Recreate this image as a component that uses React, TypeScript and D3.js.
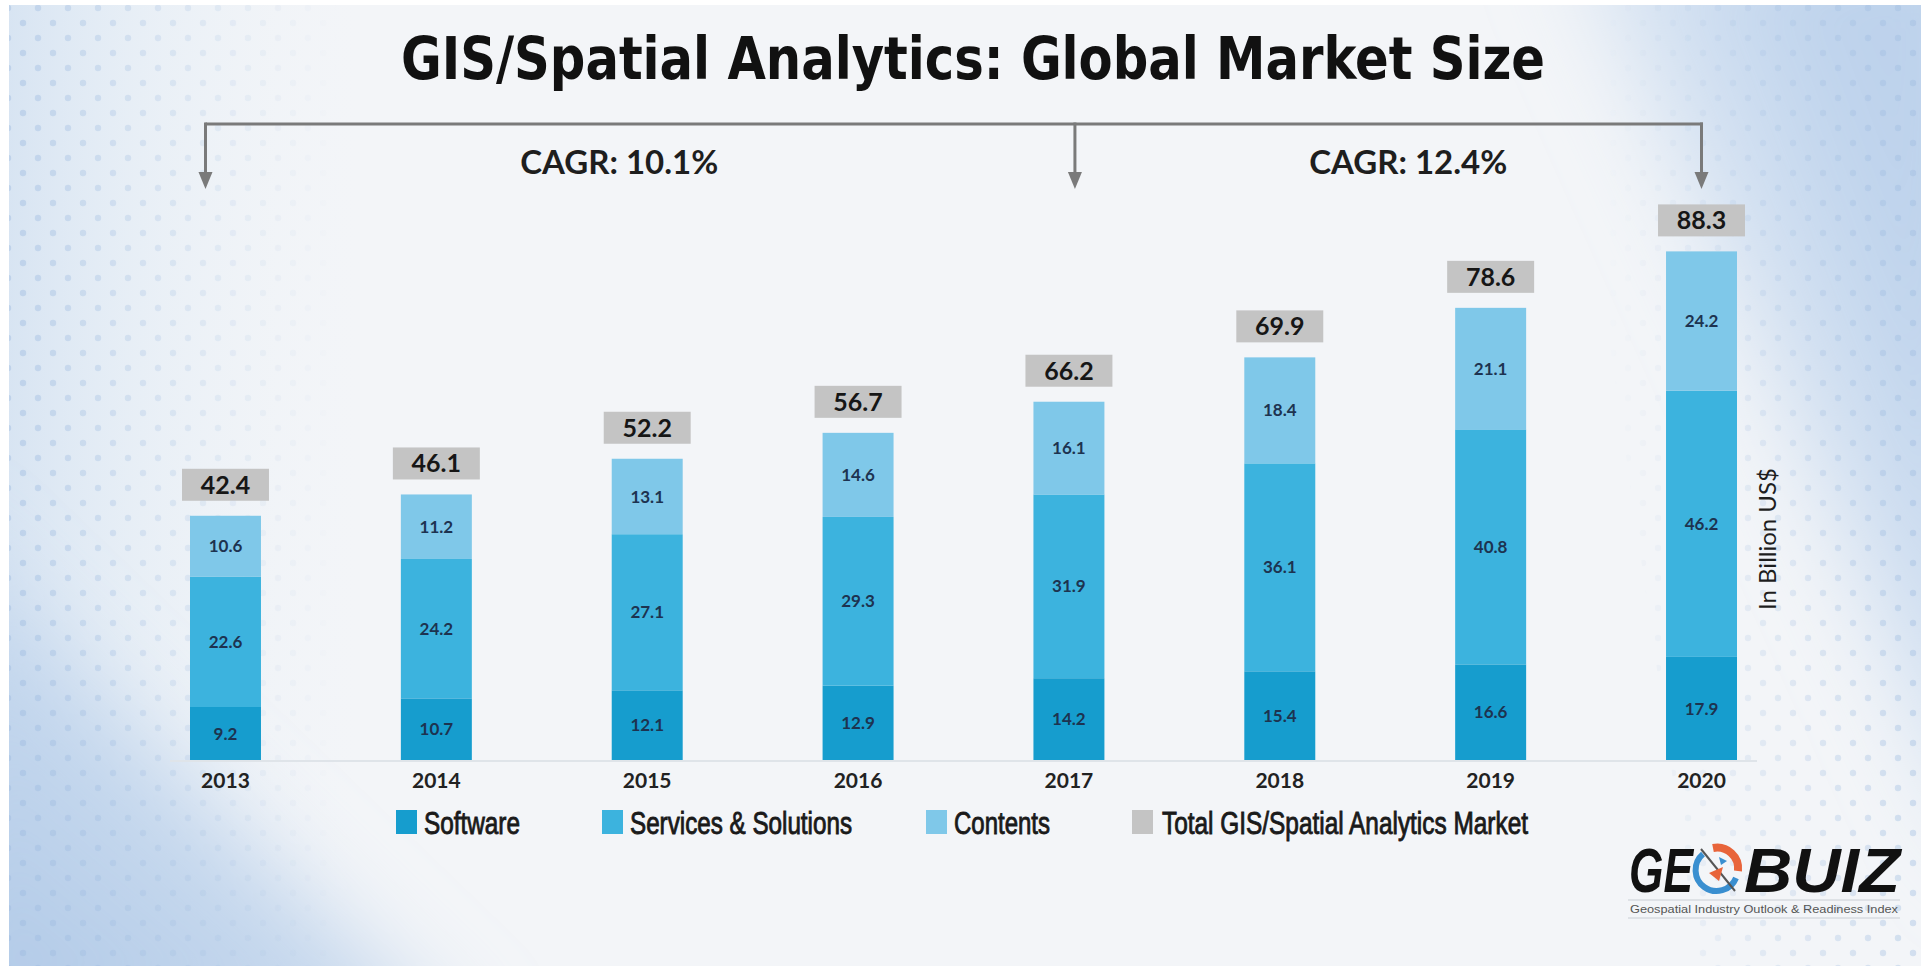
import React from "react";
import * as d3 from "d3";

const years = ["2013", "2014", "2015", "2016", "2017", "2018", "2019", "2020"];
const software = [9.2, 10.7, 12.1, 12.9, 14.2, 15.4, 16.6, 17.9];
const services = [22.6, 24.2, 27.1, 29.3, 31.9, 36.1, 40.8, 46.2];
const contents = [10.6, 11.2, 13.1, 14.6, 16.1, 18.4, 21.1, 24.2];
const totals = [42.4, 46.1, 52.2, 56.7, 66.2, 69.9, 78.6, 88.3];
const seriesKeys = ["software", "services", "contents"];
const legendLabels = ["Software", "Services & Solutions", "Contents", "Total GIS/Spatial Analytics Market"];
const cagrLabels = ["CAGR: 10.1%", "CAGR: 12.4%"];
const title = "GIS/Spatial Analytics: Global Market Size";
const unitLabel = "In Billion US$";
const logoCaption = "Geospatial Industry Outlook & Readiness Index";

const W = 1921;
const H = 966;
const COLORS = ["#169dce", "#3cb3de", "#7fc8e9", "#c4c4c4"];
const legendLayout = [
  { sx: 396, tx: 424, tl: 96 },
  { sx: 602, tx: 630, tl: 222 },
  { sx: 926, tx: 954, tl: 96 },
  { sx: 1132, tx: 1162, tl: 366 },
];

export default function App() {
  const rows = years.map((yr, i) => ({
    year: yr,
    software: software[i],
    services: services[i],
    contents: contents[i],
  }));
  const x = d3
    .scaleBand<string>()
    .domain(years)
    .range([190, 1737])
    .paddingInner(0.6634)
    .paddingOuter(0);
  const y = d3.scaleLinear().domain([0, 100]).range([760, 184]);
  const stacked = d3.stack<any>().keys(seriesKeys)(rows);
  const bw = x.bandwidth();
  const cx = (yr: string) => (x(yr) as number) + bw / 2;
  const tops = rows.map((r, i) => stacked[stacked.length - 1][i][1]);

  const bracketY = 124;
  const tipY = 189;
  const bx = [cx(years[0]) - 20, cx(years[4]) + 6, cx(years[7])];
  const cagrX = [(bx[0] + bx[1]) / 2 - 21, (bx[1] + bx[2]) / 2 + 20];

  const arrow = (xx: number) => `M${xx - 7},${tipY - 17} L${xx + 7},${tipY - 17} L${xx},${tipY} Z`;

  return (
    <svg
      width={W}
      height={H}
      viewBox={`0 0 ${W} ${H}`}
      style={{ position: "absolute", left: 0, top: 0 }}
    >
      <defs>
        <filter id="soft" x="-30%" y="-30%" width="160%" height="160%">
          <feGaussianBlur stdDeviation="45" />
        </filter>
        <linearGradient id="leftFade" x1="0" y1="0" x2="1" y2="0">
          <stop offset="0" stopColor="#c3d7ee" stopOpacity="0.8" />
          <stop offset="0.5" stopColor="#d6e5f3" stopOpacity="0.35" />
          <stop offset="1" stopColor="#eef3f8" stopOpacity="0" />
        </linearGradient>
        <linearGradient id="blFade" gradientUnits="userSpaceOnUse" x1="0" y1="966" x2="300" y2="600">
          <stop offset="0" stopColor="#b3cbe8" stopOpacity="1" />
          <stop offset="0.6" stopColor="#bed3ec" stopOpacity="0.7" />
          <stop offset="1" stopColor="#cfe0f1" stopOpacity="0" />
        </linearGradient>
        <linearGradient id="rightFade" gradientUnits="userSpaceOnUse" x1="1600" y1="420" x2="1921" y2="300">
          <stop offset="0" stopColor="#d7e5f3" stopOpacity="0" />
          <stop offset="0.4" stopColor="#cbdcf0" stopOpacity="0.55" />
          <stop offset="1" stopColor="#b8cfeb" stopOpacity="0.9" />
        </linearGradient>
        <pattern id="dots" width="30" height="30" patternUnits="userSpaceOnUse">
          <circle cx="8" cy="8" r="3.2" fill="#9dbbe0" />
          <circle cx="23" cy="23" r="3.2" fill="#9dbbe0" />
        </pattern>
        <linearGradient id="leftMaskG" x1="0" y1="0" x2="1" y2="0">
          <stop offset="0" stopColor="#fff" stopOpacity="0.45" />
          <stop offset="1" stopColor="#fff" stopOpacity="0" />
        </linearGradient>
        <linearGradient id="rightMaskG" gradientUnits="userSpaceOnUse" x1="1600" y1="300" x2="1921" y2="300">
          <stop offset="0" stopColor="#fff" stopOpacity="0" />
          <stop offset="1" stopColor="#fff" stopOpacity="0.4" />
        </linearGradient>
        <mask id="dotMask">
          <rect x="0" y="0" width="340" height={H} fill="url(#leftMaskG)" />
          <polygon points={`1560,0 ${W},0 ${W},${H} 1700,${H}`} fill="url(#rightMaskG)" />
        </mask>
      </defs>

      {/* background */}
      <rect x={0} y={0} width={W} height={H} fill="#ffffff" />
      <svg x={9} y={5} width={W - 9} height={H - 5} viewBox={`9 5 ${W - 9} ${H - 5}`} overflow="hidden">
        <rect x={9} y={5} width={W - 9} height={H - 5} fill="#f3f5f8" />
        <rect x={-60} y={-60} width={420} height={H + 120} fill="url(#leftFade)" />
        <polygon points={`-80,520 -80,1060 480,1060`} fill="url(#blFade)" filter="url(#soft)" />
        <polygon points={`1560,-80 2000,-80 2000,900`} fill="url(#rightFade)" filter="url(#soft)" />
        <rect x={9} y={5} width={W - 9} height={H - 5} fill="url(#dots)" mask="url(#dotMask)" />
      </svg>

      {/* title */}
      <text
        x={973}
        y={79}
        textAnchor="middle"
        fontFamily="'Liberation Sans Narrow', 'DejaVu Sans Condensed', sans-serif"
        fontWeight="bold"
        fontSize={59}
        fill="#111"
        textLength={1144}
        lengthAdjust="spacingAndGlyphs"
      >
        {title}
      </text>

      {/* bracket */}
      <g stroke="#7a7a7a" strokeWidth={3} fill="none">
        <line x1={bx[0]} y1={bracketY} x2={bx[2] + 1.5} y2={bracketY} />
        {bx.map((b, i) => (
          <line key={i} x1={b} y1={bracketY - 1.5} x2={b} y2={tipY - 14} />
        ))}
      </g>
      {bx.map((b, i) => (
        <path key={i} d={arrow(b)} fill="#7a7a7a" />
      ))}
      {cagrLabels.map((t, i) => (
        <text
          key={t}
          x={cagrX[i]}
          y={174}
          textAnchor="middle"
          fontFamily="Lato, sans-serif"
          fontWeight="bold"
          fontSize={33}
          fill="#1e1e1e"
        >
          {t}
        </text>
      ))}

      {/* baseline */}
      <line
        x1={(x(years[0]) as number) - 20}
        x2={(x(years[years.length - 1]) as number) + bw + 20}
        y1={y(0) + 1}
        y2={y(0) + 1}
        stroke="#dfe4e9"
        strokeWidth={2}
      />

      {/* bars */}
      {stacked.map((s, si) => (
        <g key={s.key}>
          {s.map((d, i) => (
            <rect
              key={i}
              x={x(years[i]) as number}
              y={y(d[1])}
              width={bw}
              height={y(d[0]) - y(d[1])}
              fill={COLORS[si]}
            />
          ))}
          {s.map((d, i) => (
            <text
              key={"t" + i}
              x={cx(years[i])}
              y={y((d[0] + d[1]) / 2)}
              dy="0.36em"
              textAnchor="middle"
              fontFamily="Lato, sans-serif"
              fontWeight="bold"
              fontSize={17}
              fill="#1d3350"
            >
              {(d[1] - d[0]).toFixed(1)}
            </text>
          ))}
        </g>
      ))}

      {/* totals */}
      {totals.map((t, i) => {
        const top = y(tops[i]);
        return (
          <g key={i}>
            <rect x={(x(years[i]) as number) - 8} y={top - 47} width={bw + 16} height={32} fill={COLORS[3]} />
            <text
              x={cx(years[i])}
              y={top - 31}
              dy="0.36em"
              textAnchor="middle"
              fontFamily="Lato, sans-serif"
              fontWeight="bold"
              fontSize={25}
              fill="#161616"
            >
              {t.toFixed(1)}
            </text>
          </g>
        );
      })}

      {/* year labels */}
      {years.map((yr) => (
        <text
          key={yr}
          x={cx(yr)}
          y={788}
          textAnchor="middle"
          fontFamily="Lato, sans-serif"
          fontWeight="bold"
          fontSize={21}
          fill="#222"
        >
          {yr}
        </text>
      ))}

      {/* unit label */}
      <text
        transform={`translate(1776,539) rotate(-90)`}
        textAnchor="middle"
        fontFamily="Lato, sans-serif"
        fontSize={24}
        fill="#1e1e1e"
      >
        {unitLabel}
      </text>

      {/* legend */}
      {legendLabels.map((l, i) => (
        <g key={l}>
          <rect x={legendLayout[i].sx} y={810} width={21} height={24} fill={COLORS[i]} />
          <text
            x={legendLayout[i].tx}
            y={834}
            fontFamily="'Liberation Sans Narrow', sans-serif"
            fontSize={31}
            fill="#1a1a1a"
            stroke="#1a1a1a"
            strokeWidth={0.9}
            textLength={legendLayout[i].tl}
            lengthAdjust="spacingAndGlyphs"
          >
            {l}
          </text>
        </g>
      ))}

      {/* logo */}
      <g>
        <text
          x={1629}
          y={892}
          fontFamily="'Liberation Sans', sans-serif"
          fontWeight="bold"
          fontStyle="italic"
          fontSize={63}
          fill="#111"
          textLength={64}
          lengthAdjust="spacingAndGlyphs"
        >
          GE
        </text>
        <g transform="translate(1717,869)">
          <path d="M -14,-15 A 21 21 0 1 0 19,9" fill="none" stroke="#3a8fd0" strokeWidth={6} />
          <path d="M -4,-21 A 21 21 0 0 1 21,2" fill="none" stroke="#e8643a" strokeWidth={8} />
          <line x1={-16} y1={-20} x2={18} y2={22} stroke="#555" strokeWidth={2} />
          <path d="M -8,4 L 6,-2 L 2,12 Z" fill="#e8643a" />
          <path d="M 2,-12 L 10,-8 L 4,-4 Z" fill="#3a8fd0" />
        </g>
        <text
          x={1744}
          y={892}
          fontFamily="'Liberation Sans', sans-serif"
          fontWeight="bold"
          fontStyle="italic"
          fontSize={63}
          fill="#111"
          textLength={156}
          lengthAdjust="spacingAndGlyphs"
        >
          BUIZ
        </text>
        <line x1={1628} x2={1900} y1={900} y2={900} stroke="#c9ced4" strokeWidth={1} />
        <text
          x={1630}
          y={913}
          fontFamily="'Liberation Sans', sans-serif"
          fontSize={11.5}
          fill="#555"
          textLength={268}
          lengthAdjust="spacingAndGlyphs"
        >
          {logoCaption}
        </text>
        <line x1={1628} x2={1900} y1={918} y2={918} stroke="#c9ced4" strokeWidth={1} />
      </g>
    </svg>
  );
}
